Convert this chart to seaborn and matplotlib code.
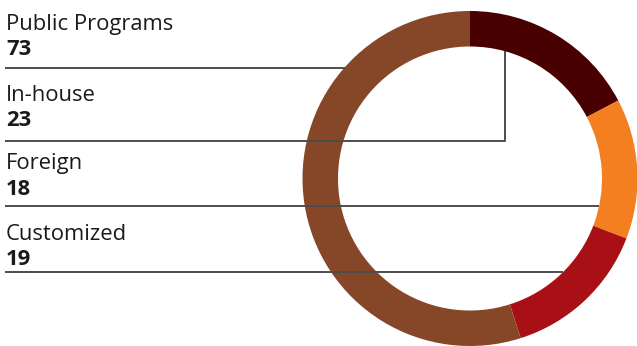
import numpy as np
import matplotlib
matplotlib.use("Agg")
import matplotlib.pyplot as plt
import seaborn as sns

# Programme counts by type
categories = ["Public Programs", "In-house", "Foreign", "Customized"]
counts = [73, 23, 18, 19]
# Ring order, clockwise from 12 o'clock
ring_order = ["In-house", "Foreign", "Customized", "Public Programs"]
colors = {
    "In-house": "#480000",
    "Foreign": "#f47f20",
    "Customized": "#a81016",
    "Public Programs": "#864628",
}

sns.set_theme(style="white")
plt.rcParams["font.family"] = ["Open Sans", "DejaVu Sans"]

W, H = 637, 346
fig = plt.figure(figsize=(W / 100, H / 100), dpi=100)
ax = fig.add_axes([0, 0, 1, 1])

# ring geometry (pixel units, y measured from the bottom)
cx, cy = 470.0, H - 178.5
R = 167.5
width = 35.5
r_in = R - width

vals = [counts[categories.index(c)] for c in ring_order]
palette = sns.color_palette([colors[c] for c in ring_order])
ax.pie(vals, colors=palette, startangle=90, counterclock=False,
       center=(cx, cy), radius=R, frame=True,
       wedgeprops=dict(width=width, linewidth=0))

ax.set_xlim(0, W)
ax.set_ylim(0, H)
ax.set_aspect("equal")
ax.axis("off")

line_kw = dict(color="#4d4d4d", lw=1.4, zorder=5, solid_capstyle="butt")
x0 = 5

# label rows: (category, name baseline, value baseline, rule y) in px from top
rows = [
    ("Public Programs", 30, 55, 67.5),
    ("In-house", 101, 126, 140.5),
    ("Foreign", 169, 195, 205.5),
    ("Customized", 240, 265, 272),
]
for cat, yb1, yb2, yl in rows:
    val = counts[categories.index(cat)]
    ax.text(6, H - yb1, cat, fontsize=15.8, color="#1a1a1a",
            va="baseline", ha="left")
    ax.text(6, H - yb2, str(val), fontsize=15.8, fontweight="bold",
            color="#1a1a1a", va="baseline", ha="left")

    y = H - yl
    dy = y - cy
    if cat == "Public Programs":
        # stop at the outer edge of the ring, left side
        xe = cx - np.sqrt(R**2 - dy**2)
        ax.plot([x0, xe], [y, y], **line_kw)
    elif cat == "In-house":
        # elbow up into the first wedge's inner edge
        ang = np.deg2rad(15.5)
        xe = cx + r_in * np.sin(ang)
        ye = cy + r_in * np.cos(ang)
        ax.plot([x0, xe, xe], [y, y, ye], **line_kw)
    else:
        xe = cx + np.sqrt(r_in**2 - dy**2)
        ax.plot([x0, xe], [y, y], **line_kw)

fig.savefig("out.png", dpi=100)
